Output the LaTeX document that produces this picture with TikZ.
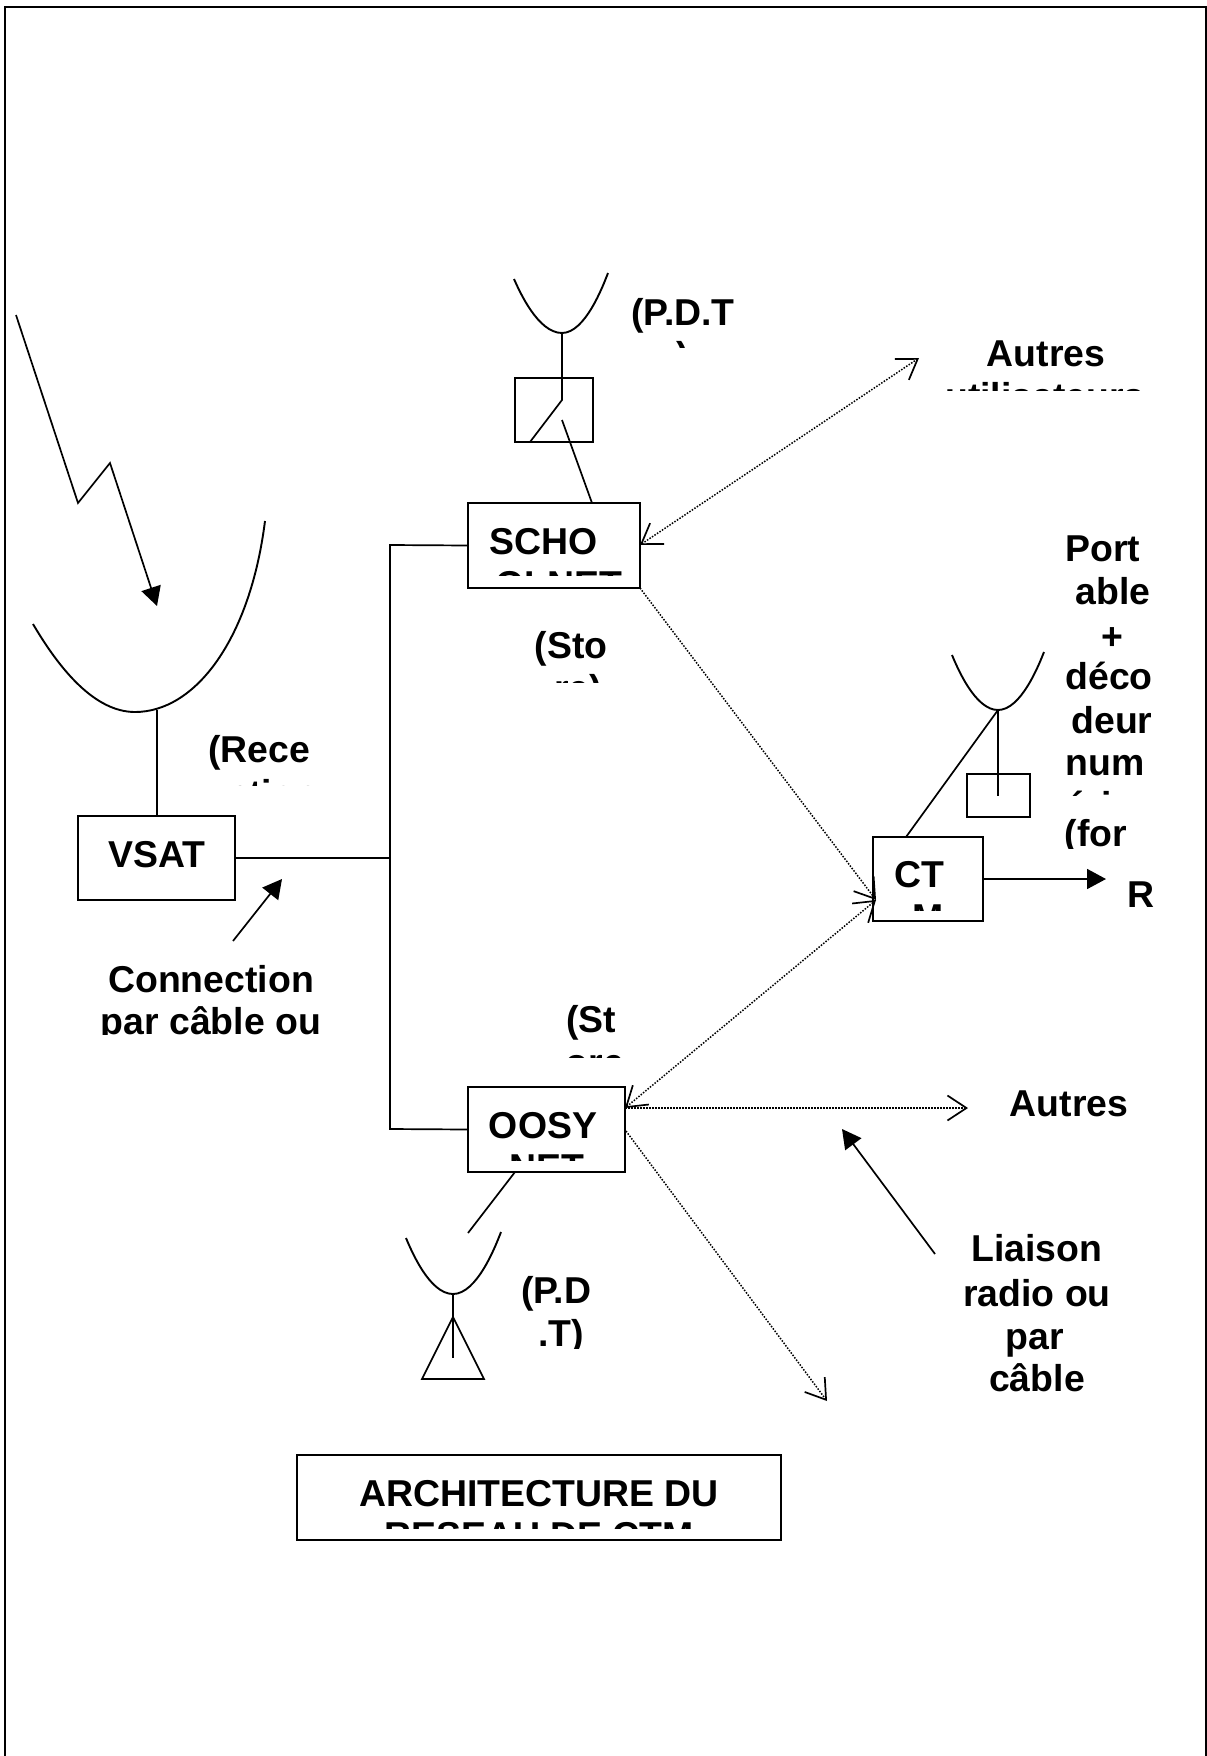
\documentclass[tikz,border=0pt]{standalone}
\usepackage{fontspec}
\setmainfont{Liberation Sans}
\usetikzlibrary{arrows.meta}
\tikzset{
  wire/.style={line width=1.7pt,line cap=butt},
  boxnode/.style={draw,line width=1.8pt,inner sep=0pt,outer sep=0pt},
  lbl/.style={font=\bfseries\fontsize{37.4}{43}\selectfont,anchor=base,inner sep=0pt,outer sep=0pt},
  radio/.style={line width=1.5pt,dash pattern=on 1.5pt off 1.5pt},
  dishline/.style={line width=1.9pt}
}
\newcommand{\clipped}[5]{\begin{scope}\clip (#1,#2) rectangle (#3,#4); #5\end{scope}}
\begin{document}
\begin{tikzpicture}[x=1pt,y=-1pt]
\useasboundingbox (0,0) rectangle (1207,1756);
% outer frame (open at the bottom edge)
\coordinate (fbl) at (5,1757);
\coordinate (ftl) at (5,7);
\coordinate (ftr) at (1206,7);
\coordinate (fbr) at (1206,1757);
\draw[line width=2pt] (fbl) -- (ftl) -- (ftr) -- (fbr);

% boxes
\node[boxnode,minimum width=157pt,minimum height=84pt] (vsat) at (156.5,858) {};
\node[boxnode,minimum width=172pt,minimum height=85pt] (school) at (554,545.5) {};
\node[boxnode,minimum width=157pt,minimum height=85pt] (oosy) at (546.5,1129.5) {};
\node[boxnode,minimum width=110pt,minimum height=84pt] (ctm) at (928,879) {};
\node[boxnode,minimum width=484pt,minimum height=85pt] (title) at (539,1497.5) {};
\node[boxnode,minimum width=78pt,minimum height=64pt] (pdtbox) at (554,410) {};
\node[boxnode,minimum width=63pt,minimum height=43pt] (decbox) at (998.5,795.5) {};

% dishes
\draw[dishline] (33,624) .. controls (60,670) and (95,712) .. (135,712) .. controls (195,712) and (250,640) .. (265,521);
\draw[dishline] (514,279) parabola bend (562,333) (608,273);
\draw[dishline] (952,655) parabola bend (998,710) (1044,652);
\draw[dishline] (406,1238) parabola bend (453,1294) (501,1232);

% named free ends
\coordinate (bus) at (390,858);
\coordinate (bustop) at (390,545);
\coordinate (busbot) at (390,1129);
\coordinate (bigfoot) at (157,710);
\coordinate (pdtfoot) at (562,333);
\coordinate (pdtknee) at (562,400);
\coordinate (pdtleg) at (530,442);
\coordinate (pdtin) at (562,420);
\coordinate (schooltop) at (592,503);
\coordinate (decfoot) at (998,710);
\coordinate (decin) at (998,796);
\coordinate (ctmtop) at (906,837);
\coordinate (oosybot) at (515,1172);
\coordinate (lowdish) at (468,1233);
\coordinate (lowfoot) at (453,1294);
\coordinate (lowpin) at (453,1358);
\coordinate (triA) at (453,1317);
\coordinate (triB) at (484,1379);
\coordinate (triC) at (422,1379);
\coordinate (l1) at (16,315);
\coordinate (l2) at (78,503);
\coordinate (l3) at (110,463);
\coordinate (l4) at (157,606);
\coordinate (conA) at (233,941);
\coordinate (conB) at (282,879);
\coordinate (liaA) at (935,1254);
\coordinate (liaB) at (842,1129);
\coordinate (rout) at (1106,879);
\coordinate (schE) at (640,545);
\coordinate (schC) at (640,588);
\coordinate (autres1) at (919,358);
\coordinate (ctmW) at (876,900);
\coordinate (ooE) at (625,1108);
\coordinate (ooF) at (626,1131);
\coordinate (autres2) at (968,1108);
\coordinate (down) at (827,1401);

% solid connectors
\draw[wire] (bigfoot) -- (vsat.north -| bigfoot);
\draw[wire] (vsat.east) -- (bus);
\draw[wire] (school.west) -- (bustop) -- (busbot) -- (oosy.west);
\draw[wire] (pdtfoot) -- (pdtknee) -- (pdtleg);
\draw[wire] (pdtin) -- (schooltop);
\draw[wire] (decfoot) -- (decin);
\draw[wire] (decfoot) -- (ctmtop);
\draw[wire] (oosybot) -- (lowdish);
\draw[wire] (lowfoot) -- (lowpin);
\draw[wire,line join=miter] (triA) -- (triB) -- (triC) -- cycle;
\draw[wire,-{Triangle[length=19pt,width=20pt]}] (l1) -- (l2) -- (l3) -- (l4);
\draw[wire,-{Triangle[length=19pt,width=20pt]}] (conA) -- (conB);
\draw[wire,-{Triangle[length=19pt,width=20pt]}] (liaA) -- (liaB);
\draw[wire,-{Triangle[length=19pt,width=20pt]}] (ctm.east) -- (rout);

% dotted radio links
\draw[radio,{Straight Barb[length=19pt,width=25pt,line width=1.7pt]}-{Straight Barb[length=19pt,width=25pt,line width=1.7pt]}] (schE) -- (autres1);
\draw[radio,-{Straight Barb[length=19pt,width=25pt,line width=1.7pt]}] (schC) -- (ctmW);
\draw[radio,{Straight Barb[length=19pt,width=25pt,line width=1.7pt]}-{Straight Barb[length=19pt,width=25pt,line width=1.7pt]}] (ooE) -- (ctmW);
\draw[radio,-{Straight Barb[length=19pt,width=25pt,line width=1.7pt]}] (ooE) -- (autres2);
\draw[radio,-{Straight Barb[length=19pt,width=25pt,line width=1.7pt]}] (ooF) -- (down);

% texts, cut off by their frames as in the picture
\node[lbl] (tvsat) at (157,867) {VSAT};
\clipped{180}{720}{340}{785}{\node[lbl] (trec1) at (259,762) {(Rece}; \node[lbl] (trec2) at (272,806) {ption};}
\clipped{90}{950}{340}{1034}{\node[lbl] (tcon1) at (211,992) {Connection}; \node[lbl] (tcon2) at (211,1034) {par câble ou};}
\clipped{620}{280}{750}{347}{\node[lbl] (tpdt1) at (683,325) {(P.D.T}; \node[lbl] (tpdt2) at (683,368) {)};}
\clipped{930}{320}{1160}{390}{\node[lbl] (taut1) at (1046,366) {Autres}; \node[lbl] (taut2) at (1045,409) {utilisateurs};}
\clipped{475}{520}{635}{575}{\node[lbl] (tsch1) at (544,554) {SCHO}; \node[lbl] (tsch2) at (559,597) {OLNET};}
\clipped{520}{620}{620}{682}{\node[lbl] (tsto1) at (571,658) {(Sto}; \node[lbl] (tsto2) at (578,701) {re)};}
\clipped{1050}{525}{1170}{795}{
  \node[lbl] (tp1) at (1103,561) {Port};
  \node[lbl] (tp2) at (1113,604) {able};
  \node[lbl] (tp3) at (1112,649) {+};
  \node[lbl] (tp4) at (1109,689) {déco};
  \node[lbl] (tp5) at (1112,733) {deur};
  \node[lbl] (tp6) at (1105,775) {num};
  \node[lbl] (tp7) at (1100,818) {ériq};}
\clipped{1050}{815}{1170}{848}{\node[lbl] (tfor) at (1096,846) {(for};}
\node[lbl] (tr) at (1141,907) {R};
\clipped{880}{850}{975}{910}{\node[lbl] (tct1) at (919,887) {CT}; \node[lbl] (tct2) at (928,930) {M};}
\clipped{550}{1000}{640}{1057}{\node[lbl] (tst1) at (591,1032) {(St}; \node[lbl] (tst2) at (595,1075) {ore};}
\clipped{475}{1095}{620}{1160}{\node[lbl] (too1) at (543,1138) {OOSY}; \node[lbl] (too2) at (547,1180) {NET};}
\clipped{510}{1270}{610}{1348}{\node[lbl] (tpd1) at (556,1303) {(P.D}; \node[lbl] (tpd2) at (561,1346) {.T)};}
\node[lbl] (taut3) at (1069,1116) {Autres};
\node[lbl] (tl1) at (1037,1261) {Liaison};
\node[lbl] (tl2) at (1037,1306) {radio ou};
\node[lbl] (tl3) at (1035,1349) {par};
\node[lbl] (tl4) at (1037,1391) {câble};
\clipped{310}{1470}{770}{1528}{\node[lbl] (tar1) at (539,1506) {ARCHITECTURE DU}; \node[lbl] (tar2) at (539,1548) {RESEAU DE CTM};}
\end{tikzpicture}
\end{document}
